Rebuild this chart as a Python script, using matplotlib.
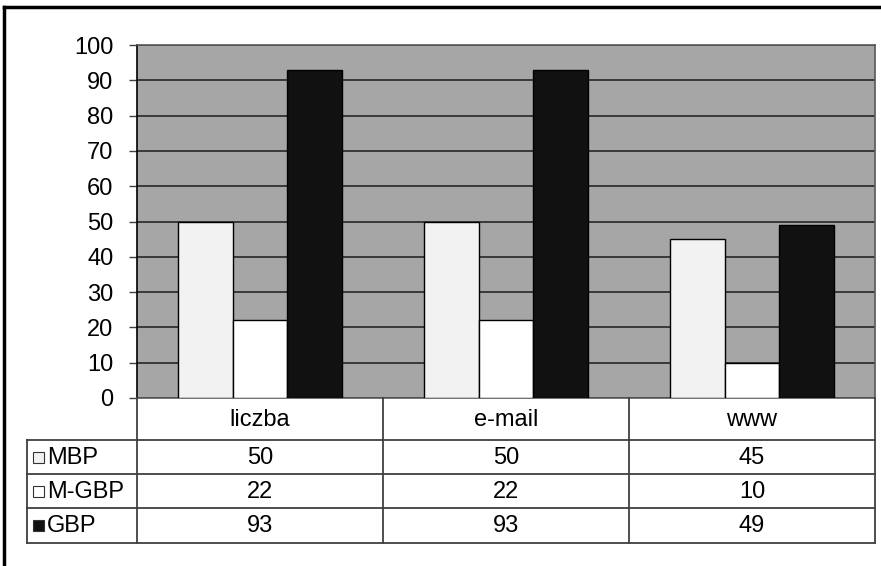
import numpy as np
import matplotlib.pyplot as plt
from matplotlib.patches import Rectangle

plt.rcParams['font.family'] = ['Liberation Sans', 'DejaVu Sans']

# data
categories = ['liczba', 'e-mail', 'www']
series_names = ['MBP', 'M-GBP', 'GBP']
mbp = [50, 50, 45]
mgbp = [22, 22, 10]
gbp = [93, 93, 49]
series_values = [mbp, mgbp, gbp]
series_colors = ['#f2f2f2', '#ffffff', '#111111']
yticks = [0, 10, 20, 30, 40, 50, 60, 70, 80, 90, 100]

W, H = 881, 566
fs = 17
fig = plt.figure(figsize=(W / 100, H / 100), dpi=100)

def px_axes(x0, y0, x1, y1):
    # pixel box (top-left origin) -> figure axes
    return fig.add_axes([x0 / W, 1 - y1 / H, (x1 - x0) / W, (y1 - y0) / H])

# outer frame (left and top only visible in the reference)
fig.add_artist(plt.Line2D([4 / W, 4 / W], [0, 1 - 6.5 / H], color='black', lw=2.5,
                          transform=fig.transFigure))
fig.add_artist(plt.Line2D([4 / W, 1], [1 - 6.5 / H, 1 - 6.5 / H], color='black', lw=2.5,
                          transform=fig.transFigure))

# plot area
ax = px_axes(137, 45, 875, 398)
ax.set_facecolor('#a6a6a6')
n = len(categories)
x = np.arange(n)
bw = 1 / 4.5
for i, (vals, col) in enumerate(zip(series_values, series_colors)):
    ax.bar(x + (i - 1) * bw, vals, width=bw, color=col, edgecolor='black',
           linewidth=1.0, zorder=3)
ax.set_xlim(-0.5, n - 0.5)
ax.set_ylim(0, 100)
ax.set_yticks(yticks)
ax.set_yticklabels([str(t) for t in yticks], fontsize=fs)
ax.set_xticks([])
ax.yaxis.grid(True, color='#262626', linewidth=1.2, zorder=1)
ax.set_axisbelow(True)
ax.tick_params(axis='y', length=6, width=1, color='#404040', pad=11)
for s in ['top', 'right', 'bottom']:
    ax.spines[s].set_color('#595959')
    ax.spines[s].set_linewidth(1.2)
ax.spines['left'].set_color('black')
ax.spines['left'].set_linewidth(1.2)

# data table below the plot
tx0, tx1 = 27, 875
col_edges = [137, 383, 629, 875]
row_edges = [398, 440, 474, 508, 543]
tab = px_axes(0, 380, W, H)
tab.set_xlim(0, W)
tab.set_ylim(H, 380)
tab.axis('off')
lc, lw = '#404040', 1.3
for yy in row_edges[1:]:
    tab.plot([tx0, tx1], [yy, yy], color=lc, lw=lw)
for xx in col_edges:
    tab.plot([xx, xx], [row_edges[0], row_edges[-1]], color=lc, lw=lw)
tab.plot([tx0, tx0], [row_edges[1], row_edges[-1]], color=lc, lw=lw)

for j, cat in enumerate(categories):
    cx = (col_edges[j] + col_edges[j + 1]) / 2
    tab.text(cx, (row_edges[0] + row_edges[1]) / 2 + 1, cat, ha='center', va='center',
             fontsize=fs)
for i, (name, vals, col) in enumerate(zip(series_names, series_values, series_colors)):
    cy = (row_edges[i + 1] + row_edges[i + 2]) / 2 + 1
    tab.add_patch(Rectangle((33, cy - 6), 11, 11, facecolor=col, edgecolor='#333333',
                            lw=0.8))
    tab.text(47, cy, name, ha='left', va='center', fontsize=fs)
    for j, v in enumerate(vals):
        cx = (col_edges[j] + col_edges[j + 1]) / 2
        tab.text(cx, cy, str(v), ha='center', va='center', fontsize=fs)

fig.savefig('out.png', dpi=100)
